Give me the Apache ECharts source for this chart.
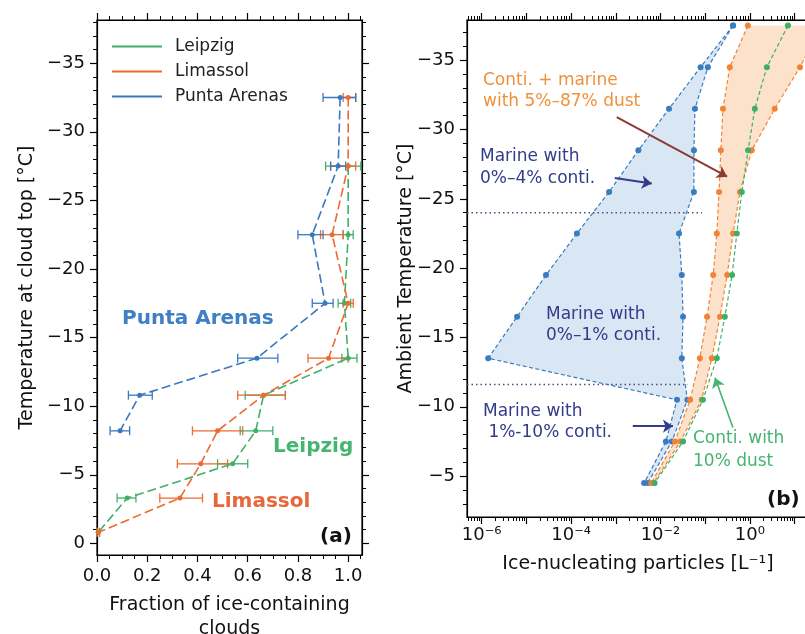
<!DOCTYPE html>
<html>
<head>
<meta charset="utf-8">
<script src="https://cdn.jsdelivr.net/npm/echarts@6/dist/echarts.min.js"></script>
<style>
  html, body { margin: 0; padding: 0; background: #fff; }
  #chart { width: 805px; height: 634px; }
</style>
</head>
<body>
<div id="chart"></div>
<script>
const FONT = 'DejaVu Sans'
const MINUS = '\u2212'

// (a) fraction of ice-containing clouds per cloud-top temperature bin
const leipzigTemp = [-27.5, -22.5, -17.5, -13.5, -10.8, -8.2, -5.8, -3.3, -0.8]
const leipzigFrac = [1.0, 1.0, 0.985, 1.0, 0.663, 0.632, 0.54, 0.12, 0.005]
const leipzigLow = [0.91, 0.98, 0.96, 0.975, 0.59, 0.57, 0.48, 0.08, 0.0]
const leipzigHigh = [1.05, 1.02, 1.01, 1.035, 0.75, 0.70, 0.60, 0.155, 0.01]

const limassolTemp = [-32.5, -27.5, -22.5, -17.5, -13.5, -10.8, -8.2, -5.8, -3.3, -0.8]
const limassolFrac = [1.0, 1.0, 0.936, 1.0, 0.922, 0.663, 0.48, 0.413, 0.33, 0.005]
const limassolLow = [0.98, 0.93, 0.89, 0.98, 0.84, 0.56, 0.38, 0.32, 0.25, 0.0]
const limassolHigh = [1.03, 1.03, 0.98, 1.02, 1.0, 0.75, 0.58, 0.52, 0.42, 0.01]

const puntaTemp = [-32.5, -27.5, -22.5, -17.5, -13.5, -10.8, -8.2]
const puntaFrac = [0.968, 0.96, 0.857, 0.908, 0.637, 0.17, 0.092]
const puntaLow = [0.90, 0.93, 0.80, 0.857, 0.56, 0.125, 0.052]
const puntaHigh = [1.03, 0.99, 0.90, 0.94, 0.72, 0.22, 0.13]

// (b) INP concentration [1/L] per ambient temperature
const inpTemp = [-37.5, -34.5, -31.5, -28.5, -25.5, -22.5, -19.5, -16.5, -13.5, -10.5, -7.5, -4.5]
const marineLow = [0.42, 0.079, 0.0155, 0.0032, 7.1e-4, 1.35e-4, 2.75e-5, 6.2e-6, 1.4e-6, 0.0234, 0.0132, 0.0043]
const marineHigh = [0.42, 0.115, 0.059, 0.056, 0.056, 0.026, 0.030, 0.032, 0.030, 0.040, 0.018, 0.0052]
const dustLow = [0.90, 0.355, 0.25, 0.224, 0.204, 0.182, 0.151, 0.11, 0.076, 0.046, 0.021, 0.0062]
const dustHigh = [40, 13.2, 3.6, 1.1, 0.60, 0.42, 0.31, 0.214, 0.141, 0.083, 0.028, 0.0070]
const contiDust10 = [7.1, 2.4, 1.29, 0.91, 0.66, 0.51, 0.40, 0.275, 0.182, 0.089, 0.032, 0.0074]

// regime boundaries (dotted) and where they stop
const regimeTemp = [-24.0, -11.6]
const regimeEnd = [0.085, 0.041]

// axes
const fracTicks = [0, 0.2, 0.4, 0.6, 0.8, 1.0]
const tempTicksA = [-35, -30, -25, -20, -15, -10, -5, 0]
const tempTicksB = [-35, -30, -25, -20, -15, -10, -5]
const inpLabelTicks = [1e-6, 1e-4, 1e-2, 1]
const inpDecadeTicks = [1e-6, 1e-5, 1e-4, 1e-3, 1e-2, 1e-1, 1, 10]
const INP_MIN = 4.7e-7
const INP_MAX = 21

const inpMinorTicks = []
inpDecadeTicks.concat([1e-7]).forEach(d => {
  for (let m = 2; m <= 9; m++) {
    const v = d * m
    if (v > INP_MIN && v < INP_MAX) inpMinorTicks.push(v)
  }
})

const green = '#3fb06a'
const orange = '#ee6a2e'
const blue = '#3a78bd'
const orangeB = '#f28234'
const navy = '#343c8a'

const SUP = {'-': '\u207b', 0: '\u2070', 1: '\u00b9', 2: '\u00b2', 3: '\u00b3', 4: '\u2074', 5: '\u2075', 6: '\u2076', 7: '\u2077', 8: '\u2078', 9: '\u2079'}
const fmtPow = (v) => '10' + String(Math.round(Math.log10(v))).split('').map(c => SUP[c]).join('')
const fmtTemp = (v) => (v < 0 ? MINUS + Math.abs(v) : String(v))

const black = {color: '#000', width: 1.2}
const tickFont = {fontFamily: FONT, fontSize: 18, color: '#111'}
const nameFont = {fontFamily: FONT, fontSize: 19, color: '#111'}

const tempAxis = (gridIndex, position, min, max, ticks, showLabel) => ({
  type: 'value', gridIndex, position, inverse: true, min, max,
  minInterval: 5, maxInterval: 5,
  axisLine: {show: true, onZero: false, lineStyle: black},
  axisTick: {show: true, length: 7, customValues: ticks, lineStyle: black},
  minorTick: {show: true, splitNumber: 5, length: 4, lineStyle: {color: '#000', width: 1}},
  axisLabel: {show: showLabel, customValues: ticks, formatter: fmtTemp, margin: 12, ...tickFont},
  splitLine: {show: false},
  nameMoveOverlap: false,
})

const fracAxis = (position, showLabel) => ({
  type: 'value', gridIndex: 0, position, min: 0, max: 1.055, interval: 0.2,
  axisLine: {show: true, onZero: false, lineStyle: black},
  axisTick: {show: true, length: 7, customValues: fracTicks, lineStyle: black},
  minorTick: {show: true, splitNumber: 4, length: 4, lineStyle: {color: '#000', width: 1}},
  axisLabel: {show: showLabel, customValues: fracTicks, formatter: v => v.toFixed(1), margin: 12, ...tickFont},
  splitLine: {show: false},
  nameMoveOverlap: false,
})

const inpAxis = (position, ticks, len, major, showLabel) => ({
  type: 'log', logBase: 10, gridIndex: 1, position, min: INP_MIN, max: INP_MAX,
  axisLine: {show: major, onZero: false, lineStyle: black},
  axisTick: {show: true, length: len, customValues: ticks, lineStyle: {color: '#000', width: major ? 1.2 : 1}},
  minorTick: {show: false},
  axisLabel: showLabel ? {show: true, customValues: inpLabelTicks, formatter: fmtPow, margin: 9, ...tickFont} : {show: false},
  splitLine: {show: false},
  nameMoveOverlap: false,
})

const fracLine = (name, color, temps, vals) => ({
  type: 'line', name, xAxisIndex: 0, yAxisIndex: 0,
  data: temps.map((t, i) => [vals[i], t]),
  symbol: 'circle', symbolSize: 5, showSymbol: true,
  lineStyle: {color, width: 1.6, type: [9, 4]},
  itemStyle: {color, borderWidth: 0},
  z: 3,
})

const errorBars = (name, color, temps, lo, hi) => ({
  type: 'custom', name, xAxisIndex: 0, yAxisIndex: 0, z: 2, silent: true,
  data: temps.map((t, i) => [lo[i], hi[i], t]),
  encode: {x: [0, 1], y: 2},
  renderItem: (params, api) => {
    const a = api.coord([api.value(0), api.value(2)])
    const b = api.coord([api.value(1), api.value(2)])
    const cap = 4.5
    const st = {stroke: color, lineWidth: 1.3}
    return {type: 'group', children: [
      {type: 'line', shape: {x1: a[0], y1: a[1], x2: b[0], y2: b[1]}, style: st},
      {type: 'line', shape: {x1: a[0], y1: a[1] - cap, x2: a[0], y2: a[1] + cap}, style: st},
      {type: 'line', shape: {x1: b[0], y1: b[1] - cap, x2: b[0], y2: b[1] + cap}, style: st},
    ]}
  },
})

const inpLine = (name, color, vals) => ({
  type: 'line', name, xAxisIndex: 2, yAxisIndex: 2,
  data: inpTemp.map((t, i) => [vals[i], t]),
  symbol: 'circle', symbolSize: 6, showSymbol: true,
  lineStyle: {color, width: 1.2, type: [4, 2.5]},
  itemStyle: {color, borderWidth: 0},
  z: 3,
})

const band = (name, fill, lower, upper) => ({
  type: 'custom', name, xAxisIndex: 2, yAxisIndex: 2, z: 1, silent: true,
  data: [[1e-3, -20]],
  renderItem: (params, api) => {
    const left = lower.map((v, i) => api.coord([v, inpTemp[i]]))
    const right = upper.map((v, i) => api.coord([v, inpTemp[i]])).reverse()
    return {type: 'polygon', shape: {points: left.concat(right)}, style: {fill}}
  },
})

const arrow = (from, to, color, width) => [
  {coord: from, lineStyle: {color, width, type: 'solid'}},
  {coord: to},
]

const note = (x, y, text, font, fill, lineHeight) => ({
  type: 'text', x, y, z: 20, silent: true,
  style: {text, font, fill, lineHeight},
})

const chart = echarts.init(document.getElementById('chart'), null, {renderer: 'canvas'})

chart.setOption({
  animation: false,
  backgroundColor: '#fff',
  textStyle: {fontFamily: FONT},
  grid: [
    {left: 97, top: 20, width: 265, height: 535, show: true, borderColor: '#000', borderWidth: 1.2, containLabel: false, outerBoundsMode: 'none'},
    {left: 467, top: 20, right: -4, height: 497, show: true, borderColor: '#000', borderWidth: 1.2, containLabel: false, outerBoundsMode: 'none'},
  ],
  legend: {
    data: ['Leipzig', 'Limassol', 'Punta Arenas'],
    orient: 'vertical', left: 112, top: 38, padding: 0,
    icon: 'rect', itemWidth: 50, itemHeight: 2, itemGap: 8,
    selectedMode: false,
    textStyle: {fontFamily: FONT, fontSize: 17, color: '#222', lineHeight: 17, padding: [0, 0, 0, 8]},
  },
  xAxis: [
    {...fracAxis('bottom', true), name: 'Fraction of ice-containing\nclouds', nameLocation: 'middle', nameGap: 38,
      nameTextStyle: {...nameFont, lineHeight: 24}},
    fracAxis('top', false),
    {...inpAxis('bottom', inpDecadeTicks, 7, true, true), name: 'Ice-nucleating particles [L\u207b\u00b9]',
      nameLocation: 'middle', nameGap: 38, nameTextStyle: nameFont},
    inpAxis('bottom', inpMinorTicks, 4, false, false),
    inpAxis('top', inpDecadeTicks, 7, true, false),
    inpAxis('top', inpMinorTicks, 4, false, false),
  ],
  yAxis: [
    {...tempAxis(0, 'left', -38.15, 0.85, tempTicksA, true), name: 'Temperature at cloud top [\u00b0C]',
      nameLocation: 'middle', nameRotate: 90, nameGap: 60, nameTextStyle: nameFont},
    tempAxis(0, 'right', -38.15, 0.85, tempTicksA, false),
    {...tempAxis(1, 'left', -37.9, -2.05, tempTicksB, true), name: 'Ambient Temperature [\u00b0C]',
      nameLocation: 'middle', nameRotate: 90, nameGap: 51, nameTextStyle: nameFont},
  ],
  series: [
    errorBars('Leipzig err', green, leipzigTemp, leipzigLow, leipzigHigh),
    errorBars('Limassol err', orange, limassolTemp, limassolLow, limassolHigh),
    errorBars('Punta Arenas err', blue, puntaTemp, puntaLow, puntaHigh),
    fracLine('Leipzig', green, leipzigTemp, leipzigFrac),
    fracLine('Limassol', orange, limassolTemp, limassolFrac),
    fracLine('Punta Arenas', blue, puntaTemp, puntaFrac),

    band('marine band', '#d9e6f3', marineLow, marineHigh),
    band('dust band', '#fde2cb', dustLow, dustHigh),
    ...regimeTemp.map((t, i) => ({
      type: 'line', name: 'regime ' + i, xAxisIndex: 2, yAxisIndex: 2, z: 2, silent: true,
      data: [[INP_MIN, t], [regimeEnd[i], t]], symbol: 'none',
      lineStyle: {color: '#4b4f7d', width: 1.5, type: [1.5, 3]},
    })),
    inpLine('Marine low', '#3a7cc0', marineLow),
    inpLine('Marine high', '#3a7cc0', marineHigh),
    inpLine('Dust low', orangeB, dustLow),
    inpLine('Dust high', orangeB, dustHigh),
    {
      ...inpLine('Conti 10% dust', '#3cb067', contiDust10),
      markLine: {
        silent: true, animation: false,
        symbol: ['none', 'arrow'], symbolSize: 10,
        label: {show: false},
        data: [
          arrow([1.05e-3, -30.9], [0.31, -26.6], '#8a3b36', 2),
          arrow([9.5e-4, -26.5], [6.4e-3, -26.1], navy, 2),
          arrow([2.4e-3, -8.6], [0.019, -8.6], navy, 2),
          arrow([0.417, -8.5], [0.166, -12.1], '#45b570', 1.6),
        ],
      },
    },
  ],
  graphic: [
    note(122, 309, 'Punta Arenas', 'bold 20px "DejaVu Sans"', '#3f7fc3'),
    note(273, 437, 'Leipzig', 'bold 20px "DejaVu Sans"', '#45b570'),
    note(212, 492, 'Limassol', 'bold 20px "DejaVu Sans"', '#e5673a'),
    note(320, 527, '(a)', 'bold 20px "DejaVu Sans"', '#111'),
    note(483, 70, 'Conti. + marine\nwith 5%\u201387% dust', '17px "DejaVu Sans"', '#f0913c', 21),
    note(480, 146, 'Marine with\n0%\u20134% conti.', '17px "DejaVu Sans"', navy, 22),
    note(546, 304, 'Marine with\n0%\u20131% conti.', '17px "DejaVu Sans"', navy, 21),
    note(483, 401, 'Marine with\n 1%-10% conti.', '17px "DejaVu Sans"', navy, 21),
    note(693, 427, 'Conti. with\n10% dust', '17px "DejaVu Sans"', '#45b570', 23),
    note(767, 490, '(b)', 'bold 20px "DejaVu Sans"', '#111'),
  ],
})
</script>
</body>
</html>
